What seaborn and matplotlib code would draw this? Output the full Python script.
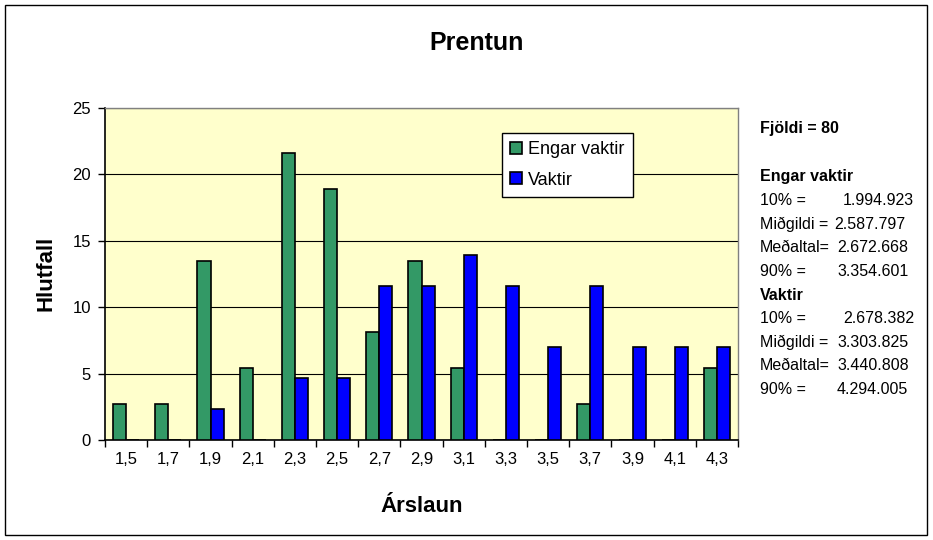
import pandas as pd
import matplotlib.pyplot as plt
import seaborn as sns
from matplotlib.patches import Rectangle

# Data
categories = ['1,5', '1,7', '1,9', '2,1', '2,3', '2,5', '2,7', '2,9',
              '3,1', '3,3', '3,5', '3,7', '3,9', '4,1', '4,3']
engar_vaktir = [2.7, 2.7, 13.5, 5.4, 21.6, 18.9, 8.1, 13.5, 5.4, 0, 0, 2.7, 0, 0, 5.4]
vaktir = [0, 0, 2.3, 0, 4.65, 4.65, 11.6, 11.6, 13.95, 11.6, 7.0, 11.6, 7.0, 7.0, 7.0]
series_names = ['Engar vaktir', 'Vaktir']

# Statistics panel on the right
stat_labels = ['10% =', 'Miðgildi =', 'Meðaltal=', '90% =']
engar_stats = ['1.994.923', '2.587.797', '2.672.668', '3.354.601']
vaktir_stats = ['2.678.382', '3.303.825', '3.440.808', '4.294.005']
n_total = 80

df = pd.DataFrame({
    'Árslaun': categories * 2,
    'Hlutfall': engar_vaktir + vaktir,
    'Hópur': [series_names[0]] * len(categories) + [series_names[1]] * len(categories),
})

sns.set_theme(style='white')
plt.rcParams['font.family'] = ['Liberation Sans', 'DejaVu Sans']
for key in ['text.color', 'axes.labelcolor', 'xtick.color', 'ytick.color']:
    plt.rcParams[key] = 'black'

W, H = 933, 540
fig = plt.figure(figsize=(W / 100, H / 100), dpi=100)
ax = fig.add_axes([105 / W, 1 - 440 / H, (738 - 105) / W, (440 - 108) / H])
ax.set_facecolor('#FFFFCC')

sns.barplot(data=df, x='Árslaun', y='Hlutfall', hue='Hópur',
            palette=['#339966', '#0000FF'], saturation=1, width=0.62,
            edgecolor='black', linewidth=1.2, ax=ax, zorder=3)

ax.set_ylim(0, 25)
ax.set_xlim(-0.5, len(categories) - 0.5)
ax.set_yticks([0, 5, 10, 15, 20, 25])
ax.yaxis.grid(True, color='black', linewidth=0.8, zorder=0)
ax.set_axisbelow(True)

# x ticks at category boundaries, labels centred under each category
ax.set_xticks([i - 0.5 for i in range(len(categories) + 1)])
ax.set_xticklabels([])
ax.set_xticks(range(len(categories)), minor=True)
ax.set_xticklabels(categories, minor=True, fontsize=12)
ax.tick_params(axis='x', which='major', direction='out', length=5, width=1, bottom=True)
ax.tick_params(axis='x', which='minor', length=0, pad=9)
ax.tick_params(axis='y', direction='out', length=5, width=1, left=True, labelsize=12, pad=5)

for side in ['left', 'bottom']:
    ax.spines[side].set_color('black')
    ax.spines[side].set_linewidth(1.2)
for side in ['top', 'right']:
    ax.spines[side].set_color('#808080')
    ax.spines[side].set_linewidth(1)

ax.set_xlabel('')
ax.set_ylabel('')
fig.text(422 / W, 1 - 507 / H, 'Árslaun', fontsize=16, fontweight='bold', ha='center', va='center')
fig.text(46 / W, 1 - 273 / H, 'Hlutfall', fontsize=16, fontweight='bold', ha='center', va='center',
         rotation=90)
fig.text(477 / W, 1 - 43 / H, 'Prentun', fontsize=18, fontweight='bold', ha='center', va='center')

leg = ax.legend(loc='upper left', bbox_to_anchor=((502 - 105) / 633, 1 - (133 - 108) / 332),
                fontsize=13, frameon=True, fancybox=False, edgecolor='black',
                handlelength=0.65, handleheight=0.65, handletextpad=0.35,
                labelspacing=0.75, borderpad=0.45, borderaxespad=0, title=None)
leg.get_frame().set_linewidth(1)
leg.get_frame().set_facecolor('white')
leg.get_frame().set_alpha(1)

# statistics text on the right
fs = 11.5
fig.text(760 / W, 1 - 128 / H, f'Fjöldi = {n_total}', fontsize=fs, fontweight='bold', va='center')
value_x = [[843, 834, 837, 837], [843, 837, 837, 837]]
y = 177
step = 23.6
for g, (name, vals) in enumerate([(series_names[0], engar_stats), (series_names[1], vaktir_stats)]):
    fig.text(760 / W, 1 - y / H, name, fontsize=fs, fontweight='bold', va='center')
    y += step
    for lab, val, vx in zip(stat_labels, vals, value_x[g]):
        fig.text(760 / W, 1 - y / H, lab, fontsize=fs, va='center')
        fig.text(vx / W, 1 - y / H, val, fontsize=fs, va='center')
        y += step

# outer border
fig.patches.append(Rectangle((5 / W, 5 / H), 922 / W, 530 / H,
                             transform=fig.transFigure, fill=False,
                             edgecolor='black', linewidth=1))

fig.savefig('out.png', dpi=100)
